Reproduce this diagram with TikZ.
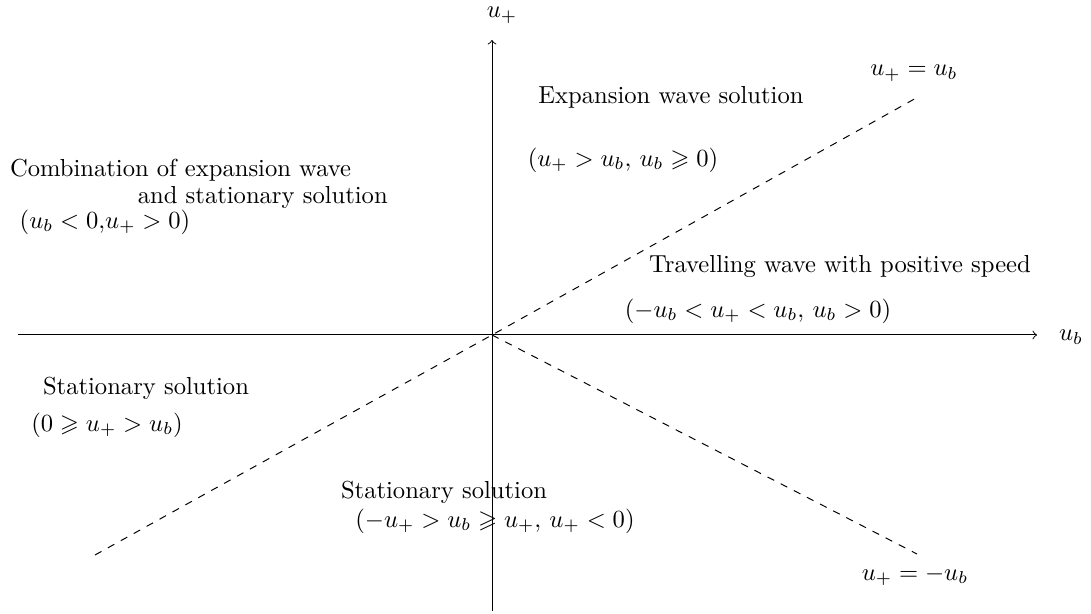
\documentclass[tikz,border=0pt]{standalone}
\usepackage{amsmath,amssymb}
\begin{document}
\begin{tikzpicture}[x=0.4065pt,y=-0.4065pt,
  lbl/.style={inner sep=0pt,outer sep=0pt},
  axis/.style={->},
  bound/.style={dashed}]
\useasboundingbox (0,0) rectangle (1091,614);
\coordinate (O) at (492,335);
\coordinate (ybot) at (492,611);
\coordinate (ytop) at (492,40);
\coordinate (xl) at (18,335);
\coordinate (xr) at (1037,335);
\coordinate (ur) at (918,97);
\coordinate (ll) at (95,555);
\coordinate (lr) at (917,554);
\draw[axis] (ybot) -- (ytop);
\draw[axis] (xl) -- (xr);
\draw[bound] (ll) -- (O) -- (ur);
\draw[bound] (O) -- (lr);
\node[lbl] (uplus) at (502,15) {$u_+$};
\node[lbl] (ub) at (1071,337) {$u_b$};
\node[lbl] (eq1) at (914,73) {$u_+=u_b$};
\node[lbl] (eq2) at (915,576) {$u_+=-u_b$};
\node[lbl] (exp) at (671,97) {Expansion wave solution};
\node[lbl] (expc) at (623,160) {$(u_+>u_b,\,u_b\geqslant 0)$};
\node[lbl,anchor=north west,align=left] (comb) at (10,159) {Combination of expansion wave\\[-1pt]\hspace*{52pt}and stationary solution};
\node[lbl] (combc) at (105,222) {$(u_b<0,$$u_+>0)$};
\node[lbl] (trav) at (840,267) {Travelling wave with positive speed};
\node[lbl] (travc) at (758,311) {$(-u_b<u_+<u_b,\,u_b>0)$};
\node[lbl] (stat1) at (146,388) {Stationary solution};
\node[lbl] (stat1c) at (107,425) {$(0\geqslant u_+>u_b)$};
\node[lbl] (stat2) at (444,492) {Stationary solution};
\node[lbl] (stat2c) at (495,521) {$(-u_+>u_b\geqslant u_+,\,u_+<0)$};
\end{tikzpicture}
\end{document}
